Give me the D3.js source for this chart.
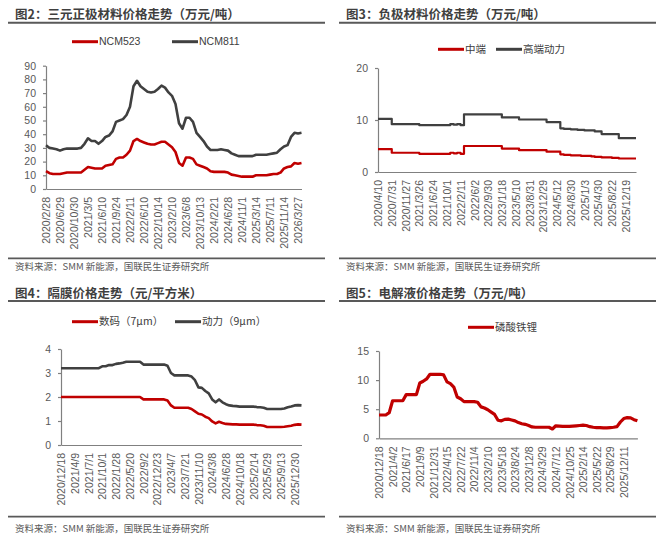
<!DOCTYPE html>
<html>
<head>
<meta charset="utf-8">
<script src="https://cdn.jsdelivr.net/npm/d3@7"></script>
<style>
  body { margin: 0; background: #fff; }
  svg text { font-family: "Liberation Sans", "Noto Sans CJK SC", sans-serif; }
  svg text.cjk { font-family: "Noto Sans CJK SC", "Liberation Sans", sans-serif; }
</style>
</head>
<body>
<svg id="chart" width="662" height="540"></svg>
<script>
// ---- 图2 三元正极 (万元/吨), values every quarter tick ----
const cathodeDates = ['2020/2/28', '2020/6/29', '2020/10/30', '2021/3/5', '2021/6/10', '2021/9/24',
  '2022/2/11', '2022/6/10', '2022/10/14', '2023/2/10', '2023/6/8', '2023/10/13', '2024/2/21',
  '2024/6/28', '2024/11/1', '2025/3/14', '2025/7/11', '2025/11/14', '2026/3/27'];
const ncm523 = [13, 11.5, 11, 11, 11, 11.5, 12, 12, 12, 12, 12, 14, 16, 15.5, 15, 15, 15, 17, 17.5, 18,
  22, 23, 23, 25, 28, 35, 36.5, 35, 34, 33, 32.5, 32.5, 33.5, 34.5, 34.5, 32.5, 30.5, 27, 19, 17,
  23, 23, 22, 18, 17, 16, 15, 13, 12.5, 12.5, 12.5, 12.5, 12, 10.5, 10, 9.5, 9, 9, 9, 9,
  10, 10, 10, 10, 10.5, 11, 11, 12, 15, 16, 16.5, 19, 18.5, 19];
const ncm811 = [32, 30, 29.5, 29, 28, 29, 29.5, 29.5, 29.5, 29.5, 30, 33, 37, 35, 35, 33, 35, 38, 39, 42,
  49, 50, 51, 54, 60, 75, 79, 75, 73, 71, 70.5, 71, 73, 75.5, 74, 70.5, 68, 62, 48, 44,
  52, 52, 49, 41, 38, 35, 31, 28.5, 28.5, 28.5, 29, 28.5, 28, 26, 25, 24, 24, 24, 24, 24,
  25, 25, 25, 25, 25.5, 26, 26.5, 29, 31, 32, 38, 41, 40.5, 41];

// ---- 图3 负极 (万元/吨) ----
const anodeDates = ['2020/4/10', '2020/7/31', '2020/11/27', '2021/3/26', '2021/6/24', '2021/10/1',
  '2022/2/11', '2022/6/2', '2022/9/30', '2023/1/18', '2023/5/10', '2023/8/31', '2023/12/29',
  '2024/5/12', '2024/8/30', '2025/1/3', '2025/4/30', '2025/8/22', '2025/12/19'];
const anodeMid = [4.4, 4.4, 4.4, 4.4, 3.7, 3.7, 3.7, 3.7, 3.7, 3.7, 3.7, 3.7,
  3.5, 3.5, 3.5, 3.5, 3.5, 3.5, 3.5, 3.5, 3.5, 3.7, 3.6, 3.7, 3.5,
  5.0, 5.0, 5.0, 5.0, 5.0, 5.0, 5.0, 5.0, 5.0, 5.0, 5.0,
  4.5, 4.5, 4.5, 4.5, 4.5, 4.2, 4.2, 4.2, 4.2, 4.2, 4.2, 4.2, 4.2,
  3.9, 3.9, 3.9, 3.9, 3.4, 3.3, 3.3, 3.2, 3.2, 3.2, 3.1, 3.1, 3.1, 3.0,
  2.9, 2.9, 2.8, 2.8, 2.8, 2.7, 2.7, 2.6, 2.6, 2.6, 2.6, 2.6, 2.6];
const anodeHigh = [10.2, 10.2, 10.2, 10.2, 9.2, 9.2, 9.2, 9.2, 9.2, 9.2, 9.2, 9.2,
  9.0, 9.0, 9.0, 9.0, 9.0, 9.0, 9.0, 9.0, 9.0, 9.2, 9.1, 9.2, 9.0,
  11.1, 11.1, 11.1, 11.1, 11.1, 11.1, 11.1, 11.1, 11.1, 11.1, 11.1,
  10.5, 10.5, 10.5, 10.5, 10.5, 10.1, 10.1, 10.1, 10.1, 10.1, 10.1, 10.1, 10.1,
  9.6, 9.6, 9.6, 9.6, 8.4, 8.3, 8.3, 8.2, 8.2, 8.1, 8.1, 8.0, 8.0, 8.0,
  7.8, 7.8, 7.3, 7.3, 7.3, 7.3, 7.3, 6.5, 6.5, 6.5, 6.5, 6.5, 6.5];

// ---- 图4 隔膜 (元/平方米) ----
const separatorDates = ['2020/12/18', '2021/4/9', '2021/7/1', '2021/10/1', '2022/1/28', '2022/5/20',
  '2022/9/2', '2022/12/23', '2023/4/7', '2023/7/21', '2023/11/10', '2024/3/8', '2024/6/28',
  '2024/10/18', '2025/2/14', '2025/5/29', '2025/9/13', '2025/12/30'];
const sep7um = [2, 2, 2, 2, 2, 2, 2, 2, 2, 2, 2, 2, 2, 2, 2, 2, 2, 2, 2, 2, 2, 2, 2, 2,
  1.9, 1.9, 1.9, 1.9, 1.9, 1.9, 1.9, 1.85, 1.65, 1.55, 1.55, 1.55, 1.55, 1.55,
  1.5, 1.4, 1.3, 1.27, 1.18, 1.12, 0.98, 0.9, 0.97, 0.92, 0.88, 0.87,
  0.86, 0.86, 0.85, 0.85, 0.85, 0.85, 0.85, 0.83, 0.82, 0.8,
  0.75, 0.75, 0.75, 0.75, 0.75, 0.76, 0.78, 0.8, 0.84, 0.86, 0.85];
const sep9um = [3.2, 3.2, 3.2, 3.2, 3.2, 3.2, 3.2, 3.2, 3.2, 3.2, 3.2, 3.2,
  3.28, 3.28, 3.33, 3.33, 3.38, 3.4, 3.43, 3.47, 3.47, 3.47, 3.47, 3.47,
  3.35, 3.35, 3.35, 3.35, 3.35, 3.35, 3.35, 3.3, 3.0, 2.9, 2.9, 2.9, 2.9, 2.9,
  2.85, 2.7, 2.4, 2.38, 2.25, 2.15, 1.9, 1.78, 1.9, 1.78, 1.7, 1.65,
  1.63, 1.62, 1.6, 1.6, 1.6, 1.6, 1.6, 1.58, 1.57, 1.55,
  1.5, 1.5, 1.5, 1.5, 1.5, 1.52, 1.57, 1.6, 1.65, 1.66, 1.65];

// ---- 图5 电解液 (万元/吨) ----
const electrolyteDates = ['2020/12/18', '2021/4/2', '2021/6/17', '2021/9/9', '2021/12/31', '2022/4/15',
  '2022/7/22', '2022/11/4', '2023/2/10', '2023/5/18', '2023/8/24', '2023/12/8', '2024/3/29',
  '2024/7/12', '2024/10/25', '2025/2/14', '2025/5/22', '2025/8/29', '2025/12/11'];
const lfpElectrolyte = [4.0, 4.0, 4.0, 4.4, 6.45, 6.45, 6.45, 6.45, 7.5, 7.5, 7.5, 7.5,
  9.5, 9.8, 10.2, 11.0, 11.0, 11.0, 11.0, 10.9, 9.7, 9.4, 8.8, 7.1, 6.8,
  6.3, 6.3, 6.3, 6.3, 6.2, 5.4, 5.2, 4.9, 4.5, 4.1, 3.1, 3.0, 3.25, 3.3, 3.15,
  3.0, 2.7, 2.5, 2.4, 2.2, 1.95, 1.9, 1.9, 1.9, 1.9, 1.9, 1.6, 2.15, 2.1, 2.05,
  2.05, 2.05, 2.1, 2.15, 2.2, 2.25, 2.2, 2.0, 1.9, 1.85, 1.85, 1.8, 1.8, 1.85,
  1.9, 2.0, 2.8, 3.4, 3.55, 3.5, 3.2, 3.0];

const RED = '#c00000';
const GRAY = '#404040';
const SOURCE = '资料来源：SMM 新能源，国联民生证券研究所';

// top row / bottom row frame positions (relative to panel origin)
const topFrame = { titleY: 18.5, ruleY: 22.7, footRuleY: 258.3, sourceY: 269.5 };
const bottomFrame = { titleY: 27.5, ruleY: 31, footRuleY: 246.7, sourceY: 262 };

const panels = [
  {
    title: '图2：三元正极材料价格走势（万元/吨）', ox: 0, oy: 0, frame: topFrame,
    labels: cathodeDates, yMax: 90, yTicks: d3.range(0, 91, 10),
    plot: { left: 46, right: 301.5, top: 65.7, bottom: 189 },
    legendY: 41.7, curve: d3.curveLinear, width: 2.6,
    series: [
      { name: 'NCM523', values: ncm523, color: RED, lx: 72 },
      { name: 'NCM811', values: ncm811, color: GRAY, lx: 172 },
    ],
  },
  {
    title: '图3：负极材料价格走势（万元/吨）', ox: 331, oy: 0, frame: topFrame,
    labels: anodeDates, yMax: 20, yTicks: [0, 10, 20],
    plot: { left: 47, right: 305, top: 68, bottom: 172 },
    legendY: 49.3, curve: d3.curveStepAfter, width: 2.2,
    series: [
      { name: '中端', values: anodeMid, color: RED, lx: 107 },
      { name: '高端动力', values: anodeHigh, color: GRAY, lx: 165 },
    ],
  },
  {
    title: '图4：隔膜价格走势（元/平方米）', ox: 0, oy: 270, frame: bottomFrame,
    labels: separatorDates, yMax: 4, yTicks: [0, 1, 2, 3, 4],
    plot: { left: 61, right: 301.5, top: 79, bottom: 175 },
    legendY: 51.7, curve: d3.curveLinear, width: 2.6,
    series: [
      { name: '数码（7μm）', values: sep7um, color: RED, lx: 72 },
      { name: '动力（9μm）', values: sep9um, color: GRAY, lx: 175 },
    ],
  },
  {
    title: '图5：电解液价格走势（万元/吨）', ox: 331, oy: 270, frame: bottomFrame,
    labels: electrolyteDates, yMax: 15, yTicks: [0, 5, 10, 15],
    plot: { left: 48, right: 306.4, top: 81, bottom: 168.3 },
    legendY: 57.3, curve: d3.curveLinear, width: 3.2,
    series: [
      { name: '磷酸铁锂', values: lfpElectrolyte, color: RED, lx: 137 },
    ],
  },
];

const svg = d3.select('#chart');

function drawPanel(p) {
  const g = svg.append('g').attr('transform', `translate(${p.ox},${p.oy})`);
  const f = p.frame;

  // title + rules + source
  g.append('text').attr('class', 'cjk')
    .attr('x', 15).attr('y', f.titleY)
    .attr('font-size', 12.5).attr('font-weight', 'bold').attr('fill', '#3f3f3f')
    .text(p.title);
  g.append('line').attr('x1', 8).attr('x2', 325).attr('y1', f.ruleY).attr('y2', f.ruleY)
    .attr('stroke', '#595959').attr('stroke-width', 2);
  g.append('line').attr('x1', 8).attr('x2', 325).attr('y1', f.footRuleY).attr('y2', f.footRuleY)
    .attr('stroke', '#595959').attr('stroke-width', 1.8);
  g.append('text').attr('class', 'cjk')
    .attr('x', 15).attr('y', f.sourceY)
    .attr('font-size', 9.5).attr('fill', '#595959')
    .text(SOURCE);

  // legend
  p.series.forEach((s) => {
    g.append('line').attr('x1', s.lx).attr('x2', s.lx + 26)
      .attr('y1', p.legendY).attr('y2', p.legendY)
      .attr('stroke', s.color).attr('stroke-width', 3);
    g.append('text').attr('class', /[\u4e00-\u9fff]/.test(s.name) ? 'cjk' : null)
      .attr('x', s.lx + 27).attr('y', p.legendY).attr('dy', '0.36em')
      .attr('font-size', 10.5).attr('fill', '#404040')
      .text(s.name);
  });

  const n = p.series[0].values.length;
  const x = d3.scaleLinear().domain([0, n - 1]).range([p.plot.left, p.plot.right]);
  const y = d3.scaleLinear().domain([0, p.yMax]).range([p.plot.bottom, p.plot.top]);

  const yAxis = g.append('g')
    .attr('transform', `translate(${p.plot.left},0)`)
    .call(d3.axisLeft(y).tickValues(p.yTicks).tickFormat(d3.format('d'))
      .tickSize(3).tickSizeOuter(0).tickPadding(7));
  yAxis.selectAll('text').attr('font-size', 10.5).attr('fill', '#595959');

  const tickIdx = p.labels.map((d, i) => i * 4);
  const xAxis = g.append('g')
    .attr('transform', `translate(0,${p.plot.bottom})`)
    .call(d3.axisBottom(x).tickValues(tickIdx).tickFormat((d) => p.labels[d / 4])
      .tickSize(0).tickSizeOuter(0));
  xAxis.selectAll('text')
    .attr('x', -8).attr('y', 0).attr('dy', '0.35em')
    .attr('transform', 'rotate(-90)')
    .style('text-anchor', 'end')
    .attr('font-size', 10.5).attr('fill', '#595959');

  g.selectAll('.domain, .tick line').attr('stroke', '#808080').attr('stroke-width', 1.2);

  const line = d3.line().x((d, i) => x(i)).y((d) => y(d)).curve(p.curve);
  p.series.slice().reverse().forEach((s) => {
    g.append('path').datum(s.values)
      .attr('fill', 'none').attr('stroke', s.color)
      .attr('stroke-width', p.width).attr('stroke-linejoin', 'round')
      .attr('d', line);
  });
}

panels.forEach(drawPanel);
</script>
</body>
</html>
